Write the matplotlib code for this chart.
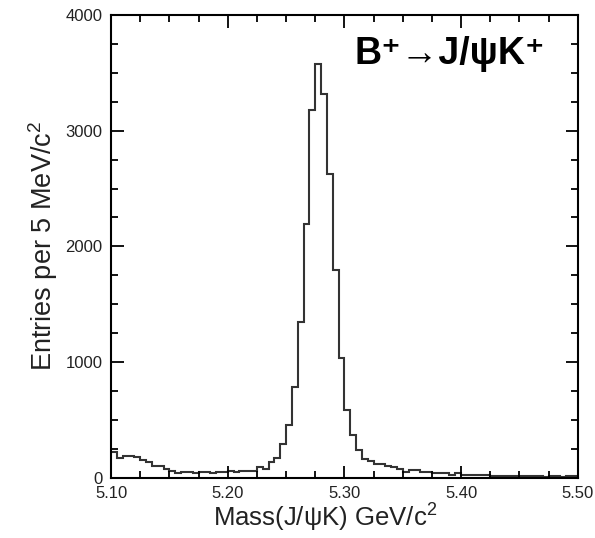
import numpy as np
import matplotlib
matplotlib.use("Agg")
import matplotlib.pyplot as plt
from matplotlib.ticker import MultipleLocator, FixedLocator

plt.rcParams['font.family'] = ['Liberation Sans', 'DejaVu Sans']
plt.rcParams['mathtext.fontset'] = 'custom'
plt.rcParams['mathtext.rm'] = 'Liberation Sans'
plt.rcParams['mathtext.it'] = 'Liberation Sans'
plt.rcParams['mathtext.default'] = 'rm'

# 5 MeV bins from 5.10 to 5.50 GeV/c^2
bin_low = 5.10
bin_high = 5.50
n_bins = 80
counts = [
    222, 176, 193, 193, 178, 157, 137, 104, 104, 76,
    58, 40, 56, 56, 45, 56, 56, 45, 56, 56,
    62, 48, 60, 60, 60, 95, 82, 142, 170, 295,
    455, 784, 1348, 2190, 3174, 3576, 3315, 2626, 1796, 1033,
    590, 375, 245, 168, 148, 118, 117, 103, 91, 80,
    48, 70, 69, 56, 54, 42, 42, 40, 27, 44,
    28, 28, 28, 28, 28, 18, 18, 18, 18, 18,
    18, 18, 18, 18, 8, 18, 18, 8, 18, 18,
]
xticks = [5.10, 5.20, 5.30, 5.40, 5.50]
xtick_labels = ["5.10", "5.20", "5.30", "5.40", "5.50"]
yticks = [0, 1000, 2000, 3000, 4000]

edges = np.linspace(bin_low, bin_high, n_bins + 1)

fig = plt.figure(figsize=(5.95, 5.38), dpi=100)
ax = fig.add_axes([0.1866, 0.1115, 0.7844, 0.861])

ax.stairs(counts, edges, color='#333333', linewidth=1.5, baseline=None)

ax.set_xlim(bin_low, bin_high)
ax.set_ylim(0, 4000)
ax.xaxis.set_major_locator(FixedLocator(xticks))
ax.set_xticklabels(xtick_labels)
ax.xaxis.set_minor_locator(MultipleLocator(0.025))
ax.yaxis.set_major_locator(FixedLocator(yticks))
ax.yaxis.set_minor_locator(MultipleLocator(250))

ax.tick_params(which='both', direction='in', top=True, right=True,
               color='black', labelsize=12, labelcolor='#222222')
ax.tick_params(which='major', length=9, width=1.3)
ax.tick_params(axis='x', which='major', pad=6)
ax.tick_params(axis='y', which='major', pad=6)
ax.tick_params(which='minor', length=5, width=1.3)
for s in ax.spines.values():
    s.set_linewidth(1.5)
    s.set_color('black')

ax.set_xlabel("Mass(J/ψK) GeV/c$^2$", fontsize=18.5, color='#222222')
ax.xaxis.set_label_coords(0.458, -0.052, transform=ax.transAxes)
ax.xaxis.label.set_va('top')
ax.set_ylabel("Entries per 5 MeV/c$^2$", fontsize=19.5, color='#222222', labelpad=4)

ax.text(0.725, 0.915, "B⁺→J/ψK⁺", transform=ax.transAxes, ha='center', va='center',
        fontsize=27, fontweight='bold', color='black',
        family=['Liberation Sans', 'DejaVu Sans'])

fig.savefig("out.png", dpi=100)
